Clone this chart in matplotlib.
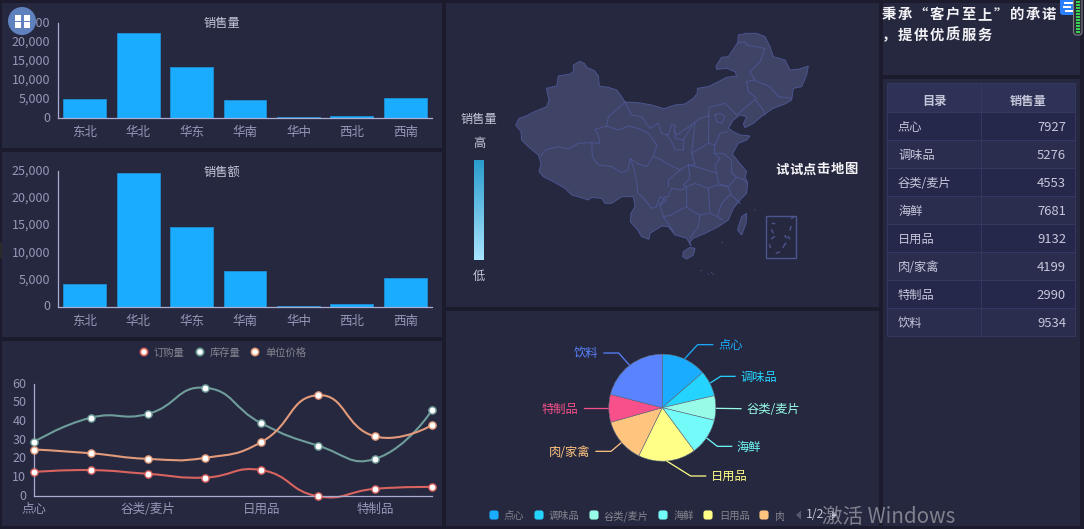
import matplotlib
matplotlib.use("Agg")
import matplotlib.pyplot as plt
import matplotlib.transforms as mtrans
import numpy as np
from matplotlib.patches import Circle, FancyBboxPatch, PathPatch, Polygon, Rectangle
from matplotlib.path import Path

plt.rcParams["font.family"] = ["Noto Sans CJK SC", "DejaVu Sans"]

W, H = 1084, 529
PAGE = "#1b1b2d"
PANEL = "#26283f"
TICK = "#9598b7"
AXIS = "#a9add0"
LIGHT = "#c5c7da"
BLUE = "#1aadff"
MAP_LINE = "#4b5590"

regions = ["东北", "华北", "华东", "华南", "华中", "西北", "西南"]
region_qty = [5000, 22300, 13500, 4650, 150, 650, 5200]
region_sales = [4180, 24630, 14800, 6690, 150, 550, 5340]

line_cats = ["点心", "调味品", "谷类/麦片", "海鲜", "日用品", "肉/家禽", "特制品", "饮料"]
order_qty = [13, 14, 12, 10, 14, 0, 4, 5]
stock_qty = [29, 42, 44, 58, 39, 27, 20, 46]
unit_price = [25, 23, 20, 20.5, 29, 54, 32, 38]

pie_share = [13.6, 7.8, 7.4, 11.1, 17.4, 13.4, 8.4, 21.0]
pie_colors = ["#1aadff", "#24d4ff", "#98fbe8", "#72fbf8", "#ffff88", "#ffc57f", "#f7508a", "#5a83ff"]

table_names = line_cats
table_values = [7927, 5276, 4553, 7681, 9132, 4199, 2990, 9534]

# map, in 3x crop units of the middle panel
china = [(212,375),(222,355),(243,348),(258,340),(285,328),(305,320),(312,300),(304,265),(335,258),(340,228),
         (375,222),(385,215),(385,195),(405,184),(418,190),(425,202),(448,212),(460,228),(463,258),(490,262),
         (515,270),(530,290),(540,306),(580,308),(620,315),(657,326),(690,315),(720,312),(745,295),(757,280),
         (757,265),(790,260),(820,245),(845,232),(875,228),(870,215),(845,205),(815,208),(813,198),(830,172),
         (850,170),(878,128),(880,105),(905,100),(935,100),(960,110),(975,140),(985,170),(1020,180),(1035,210),
         (1060,208),(1090,198),(1085,225),(1070,260),(1045,265),(1040,300),(1020,312),(985,325),(955,345),
         (925,370),(900,383),(895,372),(905,350),(885,345),(865,360),(850,385),(865,395),(885,405),(915,408),
         (905,420),(880,430),(862,462),(880,485),(905,515),(900,530),(908,548),(905,580),(885,600),(865,625),
         (850,660),(820,680),(780,700),(745,715),(735,725),(738,738),(725,715),(690,705),(670,680),(650,678),
         (615,700),(612,718),(590,710),(578,690),(556,665),(558,640),(570,620),(565,590),(530,590),(500,610),
         (480,610),(470,595),(440,592),(430,600),(405,592),(380,585),(360,565),(325,545),(295,530),(282,515),
         (288,490),(280,465),(250,440),(230,420),(228,395)]
hainan = [(715,755),(735,742),(750,745),(745,765),(725,777),(713,770)]
taiwan = [(880,680),(890,650),(905,640),(903,670),(890,705),(878,690)]
borders = [
    [(288,468),(300,450),(340,440),(370,447),(400,430),(440,428)],
    [(440,428),(465,430),(460,405),(450,388),(485,378),(490,350),(520,325),(540,306)],
    [(440,428),(442,470),(460,495),(500,500),(530,518),(550,510),(555,475),(575,490),(605,500),(625,470),
     (635,435),(610,400),(580,385),(550,378),(520,390),(485,378)],
    [(540,306),(560,345),(590,350),(615,385),(640,370),(650,400),(670,405),(680,375),(690,375),(688,395),
     (695,405),(725,385),(745,370),(765,355),(790,348)],
    [(790,348),(793,322),(840,310),(865,335),(875,345),(930,298),(955,330),(960,345)],
    [(878,128),(900,125),(905,135),(960,145),(945,185),(915,215),(930,240)],
    [(905,245),(925,240),(975,260),(1000,290),(1040,295)],
    [(905,245),(910,275),(935,295)],
    [(750,370),(740,460),(750,495),(730,495),(705,510),(665,490),(650,480),(625,470)],
    [(792,345),(790,430),(740,460)],
    [(790,430),(810,435),(825,400),(847,395)],
    [(810,435),(807,460),(835,460),(860,480),(860,520),(875,532),(895,538),(905,548)],
    [(730,495),(770,505),(815,520),(820,550),(850,560),(875,532)],
    [(807,460),(825,475),(810,495),(815,520)],
    [(850,560),(857,582),(885,610)],
    [(790,565),(795,640),(817,650),(833,660)],
    [(857,582),(830,610),(817,650)],
    [(790,565),(815,555),(850,560)],
    [(730,495),(735,535),(715,555),(725,560),(750,550),(790,565)],
    [(725,560),(725,620),(745,635),(765,645),(790,640)],
    [(765,645),(760,680),(735,715)],
    [(645,615),(655,650),(680,645),(695,635),(725,620)],
    [(645,615),(660,590),(670,590),(680,565),(710,570),(725,560)],
    [(670,560),(670,540),(705,510)],
    [(655,650),(675,680),(685,695)],
    [(555,475),(565,500),(575,545),(578,578),(600,600),(620,625),(635,620),(645,590),(665,600),(645,615)],
    [(690,395),(690,415),(715,420),(715,450),(690,450),(680,425),(665,405)],
    [(715,420),(730,395),(745,370)],
    [(810,345),(825,340),(840,350),(830,370),(815,365),(810,345)],
]
sea_marks = [[(980,668),(987,668)], [(980,690),(984,698)], [(980,716),(988,710)], [(1020,707),(1024,713)],
             [(1030,710),(1034,716)], [(1035,690),(1038,680)], [(974,735),(976,742)], [(1014,742),(1022,730)],
             [(994,760),(1003,756)], [(1040,655),(1047,650)]]
sea_dots = [(930,630), (832,728), (768,812), (790,822), (800,818), (804,822)]

# label lines for the pie, same crop units (bottom panel)
pie_lines = [[(720,145),(758,104),(803,104)], [(797,218),(827,199),(870,199)], [(813,295),(888,296)],
             [(785,384),(817,409),(860,409)], [(665,453),(737,498),(782,498)], [(530,397),(498,424),(453,424)],
             [(492,295),(417,295)], [(553,165),(521,129),(477,129)]]
pie_label_pos = [(820,105,"left"), (886,202,"left"), (904,299,"left"), (875,411,"left"),
                 (799,498,"left"), (437,428,"right"), (400,298,"right"), (461,129,"right")]


def px_axes(fig, left, top, right, bottom):
    return fig.add_axes([left / W, 1 - bottom / H, (right - left) / W, (bottom - top) / H])


def map_xy(points):
    return [(445 + x / 3, y / 3) for x, y in points]


def pie_xy(points):
    return [(445 + x / 3, 310 + y / 3) for x, y in points]


def spaced_text(ax, x, y, text, step, **kw):
    for i, ch in enumerate(text):
        ax.text(x + step * i, y, ch, ha="center", va="center", **kw)


def style_axes(ax):
    ax.patch.set_alpha(0)
    for side in ["top", "right"]:
        ax.spines[side].set_visible(False)
    for side in ["left", "bottom"]:
        ax.spines[side].set_color(AXIS)
        ax.spines[side].set_linewidth(0.9)
    ax.tick_params(length=0, labelsize=9, labelcolor=TICK, pad=5.5)
    # the value labels sit a little above their ticks in the reference
    shift = mtrans.ScaledTranslation(0, 1.5 / 100, ax.figure.dpi_scale_trans)
    for label in ax.get_yticklabels():
        label.set_transform(label.get_transform() + shift)


def bar_chart(fig, top, bottom, values):
    ax = px_axes(fig, 58, top, 432, bottom)
    ax.bar(regions, values, width=0.8, color=BLUE, edgecolor="#1f8fd6", linewidth=0.6)
    ax.set_xlim(-0.5, 6.5)
    ax.set_ylim(0, 25000)
    ax.set_yticks(range(0, 25001, 5000))
    ax.yaxis.set_major_formatter(matplotlib.ticker.StrMethodFormatter("{x:,.0f}"))
    style_axes(ax)
    ax.tick_params(axis="x", pad=5.5)
    return ax


def smooth_path(xs, ys, sx, sy, smooth=0.5):
    # same idea as an echarts smooth line, worked out in pixels
    pts = np.column_stack([np.array(xs) * sx, np.array(ys) * sy])
    verts = [pts[0]]
    codes = [Path.MOVETO]
    for i in range(len(pts) - 1):
        p0, p1 = pts[i], pts[i + 1]
        if i == 0:
            c0 = p0
        else:
            v = p1 - pts[i - 1]
            d0 = np.hypot(*(p0 - pts[i - 1]))
            d1 = np.hypot(*(p1 - p0))
            c0 = p0 + v * (d1 / (d0 + d1)) * smooth
        if i == len(pts) - 2:
            c1 = p1
        else:
            v = pts[i + 2] - p0
            d0 = np.hypot(*(p1 - p0))
            d1 = np.hypot(*(pts[i + 2] - p1))
            c1 = p1 - v * (d0 / (d0 + d1)) * smooth
        verts += [c0, c1, p1]
        codes += [Path.CURVE4] * 3
    verts = np.array(verts) / [sx, sy]
    return Path(verts, codes)


fig = plt.figure(figsize=(W / 100, H / 100), dpi=100, facecolor=PAGE)

# everything that is not a real chart sits on one pixel-sized axes
bg = fig.add_axes([0, 0, 1, 1])
bg.set_xlim(0, W)
bg.set_ylim(H, 0)
bg.axis("off")

for left, top, right, bottom in [(2, 3, 442, 148), (2, 152, 442, 337), (2, 341, 442, 526), (446, 3, 879, 307),
                                 (446, 311, 879, 526), (883, 3, 1080, 75), (883, 79, 1080, 526)]:
    bg.add_patch(Rectangle((left, top), right - left, bottom - top, color=PANEL, lw=0))
bg.add_patch(Rectangle((0, 242), 2, 16, color="#2b2b2b", lw=0))

bg.text(222, 23.5, "销售量", ha="center", va="center", fontsize=8.8, color=LIGHT)
bg.text(222, 172.5, "销售额", ha="center", va="center", fontsize=8.8, color=LIGHT)

# map
for shape in [china, hainan, taiwan]:
    bg.add_patch(Polygon(map_xy(shape), closed=True, facecolor="#3f4365", edgecolor=MAP_LINE, lw=0.7))
for line in borders:
    pts = np.array(map_xy(line))
    bg.plot(pts[:, 0], pts[:, 1], color=MAP_LINE, lw=0.7)
box = map_xy([(964, 647), (1052, 774)])
bg.add_patch(Rectangle(box[0], box[1][0] - box[0][0], box[1][1] - box[0][1], fill=False, ec=MAP_LINE, lw=1.0))
for line in sea_marks:
    pts = np.array(map_xy(line))
    bg.plot(pts[:, 0], pts[:, 1], color=MAP_LINE, lw=1.0)
for x, y in map_xy(sea_dots):
    bg.add_patch(Circle((x, y), 0.6, color=MAP_LINE, lw=0))

# visual map legend
gradient = np.linspace(0, 1, 100).reshape(-1, 1)
cmap = matplotlib.colors.LinearSegmentedColormap.from_list("vm", ["#2a9dcb", "#a8e4ff"])
bg.imshow(gradient, cmap=cmap, extent=(474, 484, 260, 160), aspect="auto", zorder=2)
bg.set_xlim(0, W)
bg.set_ylim(H, 0)
bg.text(479, 119.5, "销售量", ha="center", va="center", fontsize=8.8, color=LIGHT)
bg.text(479, 144, "高", ha="center", va="center", fontsize=8.8, color=LIGHT)
bg.text(479, 276, "低", ha="center", va="center", fontsize=8.8, color=LIGHT)
spaced_text(bg, 782, 169.5, "试试点击地图", 13.8, fontsize=9.6, color="#f2f2f6", fontweight="bold")

# text top right
spaced_text(bg, 889, 15, "秉承“客户至上”的承诺", 16, fontsize=10.3, color="#f2f2f6", fontweight="bold")
spaced_text(bg, 889, 36, "，提供优质服务", 16, fontsize=10.3, color="#f2f2f6", fontweight="bold")

# table
row_lines = [83.3 + 29 + 28 * i for i in range(9)]
bg.add_patch(Rectangle((887.3, 83.3), 188, 29, facecolor="#2e3256", edgecolor="#343860", lw=0.8))
bg.text(934, 101, "目录", ha="center", va="center", fontsize=8.8, color=LIGHT, fontweight="bold")
bg.text(1028, 101, "销售量", ha="center", va="center", fontsize=8.8, color=LIGHT, fontweight="bold")
for i, (name, value) in enumerate(zip(table_names, table_values)):
    y0 = row_lines[i]
    bg.add_patch(Rectangle((887.3, y0), 188, 28, facecolor="#2a2d4e" if i % 2 else "#25284a",
                           edgecolor="#343860", lw=0.8))
    bg.text(898, y0 + 15, name, ha="left", va="center", fontsize=8.8, color=LIGHT)
    bg.text(1066, y0 + 15, str(value), ha="right", va="center", fontsize=9.4, color=LIGHT)
bg.plot([981.3, 981.3], [83.3, row_lines[8]], color="#343860", lw=0.8)

# pie label lines and text
for i, name in enumerate(table_names):
    pts = np.array(pie_xy(pie_lines[i]))
    bg.plot(pts[:, 0], pts[:, 1], color=pie_colors[i], lw=0.9)
    zx, zy, align = pie_label_pos[i]
    x, y = pie_xy([(zx, zy)])[0]
    bg.text(x, y, name, ha=align, va="center", fontsize=8.8, color=pie_colors[i])

# pie legend
legend_box_x = [494, 539, 594, 663, 708, 764]
legend_text_x = [504, 549, 604, 674, 719, 774]
for i in range(6):
    bg.add_patch(FancyBboxPatch((legend_box_x[i] - 4, 511), 8, 8, boxstyle="round,pad=0,rounding_size=2",
                                color=pie_colors[i], lw=0.8))
    t = bg.text(legend_text_x[i], 516, table_names[i], ha="left", va="center", fontsize=7.4, color="#85868f")
    if i == 5:
        # pager cuts this one off
        t.set_clip_path(Rectangle((770, 505), 14, 20, transform=bg.transData))
        t.set_clip_on(True)
bg.add_patch(Polygon([(801, 510.5), (801, 519.5), (796, 515)], color="#555a70", lw=0))
bg.add_patch(Polygon([(832, 510.5), (832, 519.5), (837, 515)], color="#c5c7da", lw=0))
bg.text(815, 514, "1/2", ha="center", va="center", fontsize=8.8, color=LIGHT)

# bars
bar_chart(fig, 23, 118, region_qty)
bar_chart(fig, 171.3, 307, region_sales)

# smooth lines
ax = px_axes(fig, 34, 384, 432, 496.3)
x_idx = np.arange(len(line_cats))
sx = (432 - 34) / 7
sy = (496.3 - 384) / 60
series = [("订购量", order_qty, "#d9645f"), ("库存量", stock_qty, "#6f9d9b"), ("单位价格", unit_price, "#e39a7a")]
for name, values, color in series:
    ax.add_patch(PathPatch(smooth_path(x_idx, values, sx, sy), fill=False, ec=color, lw=1.5, clip_on=False))
    ax.plot(x_idx, values, ls="none", marker="o", ms=5.2, mfc="white", mec=color, mew=1.0, clip_on=False, zorder=4)
ax.set_xlim(0, 7)
ax.set_ylim(0, 60)
ax.set_yticks(range(0, 61, 10))
ax.set_xticks(x_idx[::2])
ax.set_xticklabels(line_cats[::2])
style_axes(ax)
ax.tick_params(axis="x", pad=4.8)

legend_x = [144, 200, 255]
for (name, values, color), x in zip(series, legend_x):
    bg.add_patch(Circle((x, 352), 3.6, fc="white", ec=color, lw=1.2))
    bg.text(x + 10, 353, name, ha="left", va="center", fontsize=7.4, color="#85868f")

# pie
pie_ax = px_axes(fig, 662.3 - 53.5, 407.7 - 53.5, 662.3 + 53.5, 407.7 + 53.5)
pie_ax.pie(pie_share, colors=pie_colors, startangle=90, counterclock=False, radius=1,
           wedgeprops={"edgecolor": "#5f6f80", "linewidth": 0.4})
pie_ax.set_xlim(-1, 1)
pie_ax.set_ylim(-1, 1)

# things on top of the page
top = fig.add_axes([0, 0, 1, 1], zorder=10)
top.set_xlim(0, W)
top.set_ylim(H, 0)
top.axis("off")
top.add_patch(Circle((22, 21), 14, color="#5f82bf", lw=0))
for x, y in [(15, 14.5), (23.5, 14.5), (15, 22), (23.5, 22)]:
    top.add_patch(Rectangle((x, y), 6, 6, color="white", lw=0))

# corner widget, drawn as an icon and not as text
top.add_patch(FancyBboxPatch((1060, -3), 22, 18, boxstyle="round,pad=0,rounding_size=3", color="#2a7fff", lw=0))
for x, y, w in [(1064, 2, 9), (1063, 6, 8), (1065, 10, 8)]:
    top.add_patch(Rectangle((x, y), w, 2.2, color="white", lw=0))
top.add_patch(FancyBboxPatch((1073.5, -3), 8.5, 38, boxstyle="round,pad=0,rounding_size=3",
                             fc="#2b2d3a", ec="#7a7c80", lw=0.8))
for y in range(1, 33, 3):
    top.add_patch(Rectangle((1075.5, y), 4.5, 1.8, color="#38d050", lw=0))

top.text(822, 517, "激活 Windows", ha="left", va="center", fontsize=14.8, color="#8a8c97", alpha=0.9)

fig.savefig("out.png", dpi=100, facecolor=PAGE)
